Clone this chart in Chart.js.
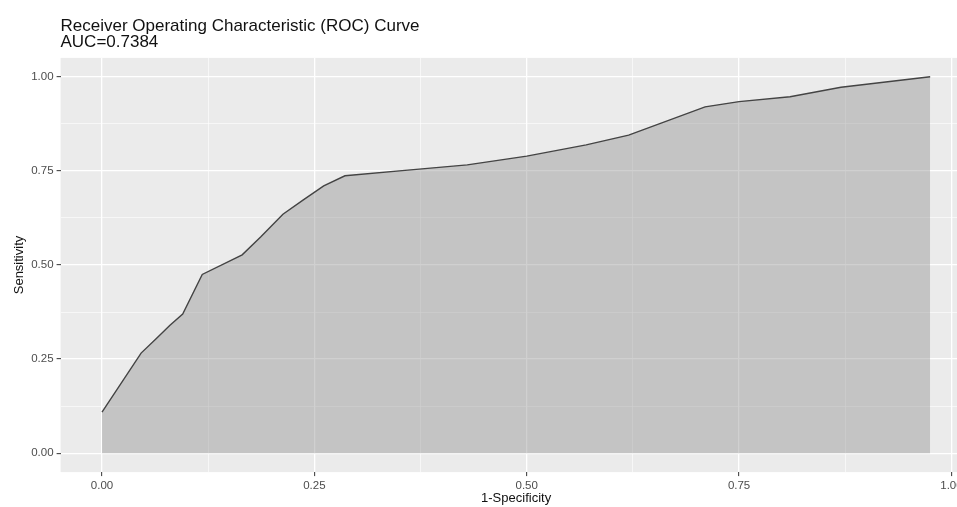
<!DOCTYPE html>
<html>
<head>
<meta charset="utf-8">
<script src="https://cdn.jsdelivr.net/npm/chart.js@4"></script>
<style>
  html, body { margin: 0; padding: 0; background: #fff; overflow: hidden; }
  #wrap { width: 990px; height: 507px; }
</style>
</head>
<body>
<div id="wrap"><canvas id="rocChart" width="990" height="507"></canvas></div>
<script>
// ROC points
const fpr = [0, 0.046, 0.064, 0.080, 0.095, 0.118, 0.165, 0.187, 0.213, 0.237, 0.261, 0.286, 0.36, 0.43, 0.50, 0.57, 0.62, 0.71, 0.75, 0.81, 0.87, 0.975];
const tpr = [0.109, 0.266, 0.305, 0.340, 0.370, 0.475, 0.527, 0.575, 0.635, 0.673, 0.710, 0.737, 0.752, 0.766, 0.789, 0.819, 0.845, 0.920, 0.934, 0.947, 0.972, 1.0];

const majorTicks = [0, 0.25, 0.5, 0.75, 1];
const minorTicks = [0.125, 0.375, 0.625, 0.875];
const titleLines = ["Receiver Operating Characteristic (ROC) Curve", "AUC=0.7384"];

const allTicks = majorTicks.concat(minorTicks).sort((a, b) => a - b);
const isMajor = v => majorTicks.some(m => Math.abs(m - v) < 1e-9);

// grey panel behind the plot, like ggplot
const panelBg = {
  id: "panelBg",
  beforeDraw(chart) {
    const { ctx, chartArea: a } = chart;
    ctx.save();
    ctx.fillStyle = "#ebebeb";
    ctx.fillRect(a.left, a.top, a.right - a.left, a.bottom - a.top);
    ctx.restore();
  }
};

const titleText = {
  id: "titleText",
  afterDraw(chart) {
    const ctx = chart.ctx;
    ctx.save();
    ctx.font = '17px "Liberation Sans", Arial, sans-serif';
    ctx.fillStyle = "#111";
    ctx.textBaseline = "alphabetic";
    ctx.fillText(titleLines[0], 60.5, 30.5);
    ctx.fillText(titleLines[1], 60.5, 47);
    ctx.restore();
  }
};

function gridOpts() {
  return {
    color: "#ffffff",
    lineWidth: ctx => isMajor(ctx.tick.value) ? 1.3 : 0.6,
    tickColor: ctx => isMajor(ctx.tick.value) ? "#333333" : "rgba(0,0,0,0)",
    tickWidth: 1,
    tickLength: 4,
    drawTicks: true
  };
}

const tickFont = { family: '"Liberation Sans", Arial, sans-serif', size: 11.5 };

new Chart(document.getElementById("rocChart"), {
  type: "line",
  data: {
    datasets: [{
      data: fpr.map((x, i) => ({ x: x, y: tpr[i] })),
      borderColor: "#444444",
      borderWidth: 1.4,
      backgroundColor: "rgba(137,137,137,0.4)",
      fill: "origin",
      pointRadius: 0,
      tension: 0
    }]
  },
  options: {
    responsive: false,
    animation: false,
    layout: { padding: { top: 57.9, right: 18.4, left: 0, bottom: 0 } },
    plugins: {
      legend: { display: false },
      tooltip: { enabled: false }
    },
    scales: {
      x: {
        type: "linear",
        min: -0.04875,
        max: 1.02375,
        afterBuildTicks: s => { s.ticks = allTicks.map(v => ({ value: v })); },
        afterFit: s => { s.height = 34.9; },
        border: { display: false },
        grid: gridOpts(),
        ticks: {
          autoSkip: false,
          maxRotation: 0,
          padding: 3,
          color: "#4d4d4d",
          font: tickFont,
          callback: v => isMajor(v) ? v.toFixed(2) : ""
        },
        title: {
          display: true,
          text: "1-Specificity",
          color: "#111",
          padding: { top: 0, bottom: 1 },
          font: { family: '"Liberation Sans", Arial, sans-serif', size: 13 }
        }
      },
      y: {
        type: "linear",
        min: -0.05,
        max: 1.05,
        afterBuildTicks: s => { s.ticks = allTicks.map(v => ({ value: v })); },
        afterFit: s => { s.width = 60.6; },
        border: { display: false },
        grid: gridOpts(),
        ticks: {
          autoSkip: false,
          padding: 3,
          color: "#4d4d4d",
          font: tickFont,
          callback: v => isMajor(v) ? v.toFixed(2) : ""
        },
        title: {
          display: true,
          text: "Sensitivity",
          color: "#111",
          padding: { top: 12, bottom: 0 },
          font: { family: '"Liberation Sans", Arial, sans-serif', size: 13 }
        }
      }
    }
  },
  plugins: [panelBg, titleText]
});
</script>
</body>
</html>
